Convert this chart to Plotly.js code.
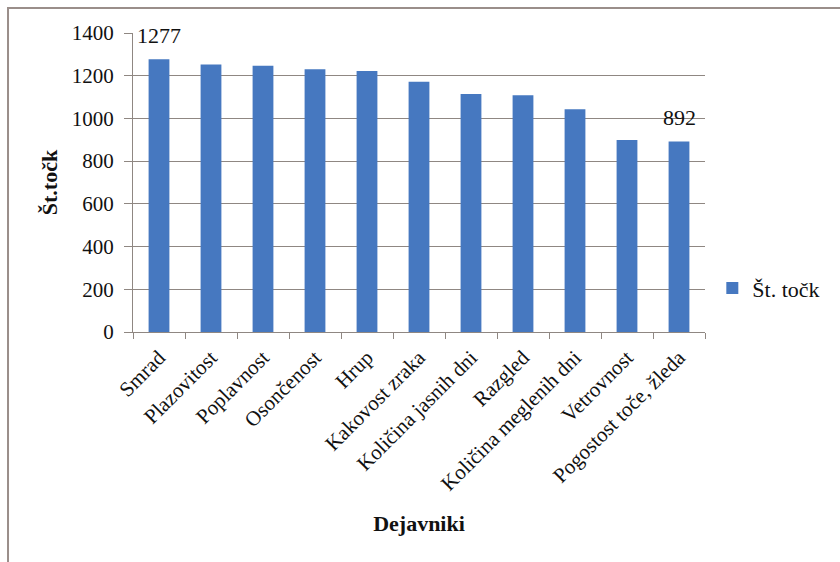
<!DOCTYPE html>
<html>
<head>
<meta charset="utf-8">
<script src="https://cdn.plot.ly/plotly-3.0.1.min.js"></script>
<style>
  html, body { margin: 0; padding: 0; background: #ffffff; }
  #chart { width: 840px; height: 562px; }
</style>
</head>
<body>
<div id="chart"></div>
<script>
// Dejavniki (factors) and their point totals
const categories = [
  'Smrad', 'Plazovitost', 'Poplavnost', 'Osončenost', 'Hrup',
  'Kakovost zraka', 'Količina jasnih dni', 'Razgled',
  'Količina meglenih dni', 'Vetrovnost', 'Pogostost toče, žleda'
];
const points = [1277, 1252, 1247, 1230, 1222, 1172, 1114, 1108, 1043, 899, 892];
const seriesName = 'Št. točk';
const yTicks = [0, 200, 400, 600, 800, 1000, 1200, 1400];

// only the highest and lowest totals carry a value label
const labelled = [0, points.length - 1];

const serif = 'Liberation Serif';
const ink = '#111111';
const gridColor = '#8f8782';
const barColor = '#4678c0';

const trace = {
  type: 'bar',
  x: categories,
  y: points,
  name: seriesName,
  marker: { color: barColor },
  showlegend: true
};

const valueLabels = labelled.map(i => ({
  x: categories[i],
  y: points[i],
  xref: 'x',
  yref: 'y',
  text: String(points[i]),
  showarrow: false,
  yanchor: 'bottom',
  yshift: 9,
  font: { family: serif, size: 22, color: ink }
}));

const layout = {
  width: 840,
  height: 562,
  paper_bgcolor: '#ffffff',
  plot_bgcolor: '#ffffff',
  margin: { l: 133, r: 135, t: 33, b: 230, autoexpand: false },
  bargap: 0.6,
  font: { family: serif, color: ink },
  xaxis: {
    type: 'category',
    showgrid: false,
    showline: true,
    linecolor: gridColor,
    linewidth: 1,
    ticks: 'outside',
    tickson: 'boundaries',
    ticklen: 6,
    tickcolor: gridColor,
    tickangle: -45,
    ticklabelstandoff: 4,
    tickfont: { family: serif, size: 21, color: ink },
    title: {
      text: 'Dejavniki',
      font: { family: serif, size: 22, color: ink, weight: 'bold' },
      standoff: 21
    },
    automargin: false
  },
  yaxis: {
    range: [0, 1400],
    tickvals: yTicks,
    ticktext: yTicks.map(String),
    showgrid: true,
    gridcolor: gridColor,
    gridwidth: 1,
    showline: true,
    linecolor: gridColor,
    linewidth: 1,
    zeroline: false,
    ticks: 'outside',
    ticklen: 8,
    tickcolor: gridColor,
    ticklabelstandoff: 6,
    tickfont: { family: serif, size: 21, color: ink },
    title: {
      text: 'Št.točk',
      font: { family: serif, size: 22, color: ink, weight: 'bold' },
      standoff: 8
    },
    automargin: false
  },
  showlegend: true,
  legend: {
    xref: 'container',
    yref: 'container',
    x: 0.848,
    y: 0.487,
    xanchor: 'left',
    yanchor: 'middle',
    font: { family: serif, size: 22, color: ink },
    bgcolor: 'rgba(0,0,0,0)',
    itemwidth: 30
  },
  annotations: valueLabels,
  shapes: [{
    // outer frame of the chart area, open to the right and bottom
    type: 'rect',
    xref: 'paper',
    yref: 'paper',
    x0: -0.2185,
    x1: 2,
    y0: -2,
    y1: 1.0836,
    line: { color: '#9a8e8a', width: 2 },
    fillcolor: 'rgba(0,0,0,0)',
    layer: 'above'
  }]
};

Plotly.newPlot('chart', [trace], layout, { displayModeBar: false, responsive: false });
</script>
</body>
</html>
